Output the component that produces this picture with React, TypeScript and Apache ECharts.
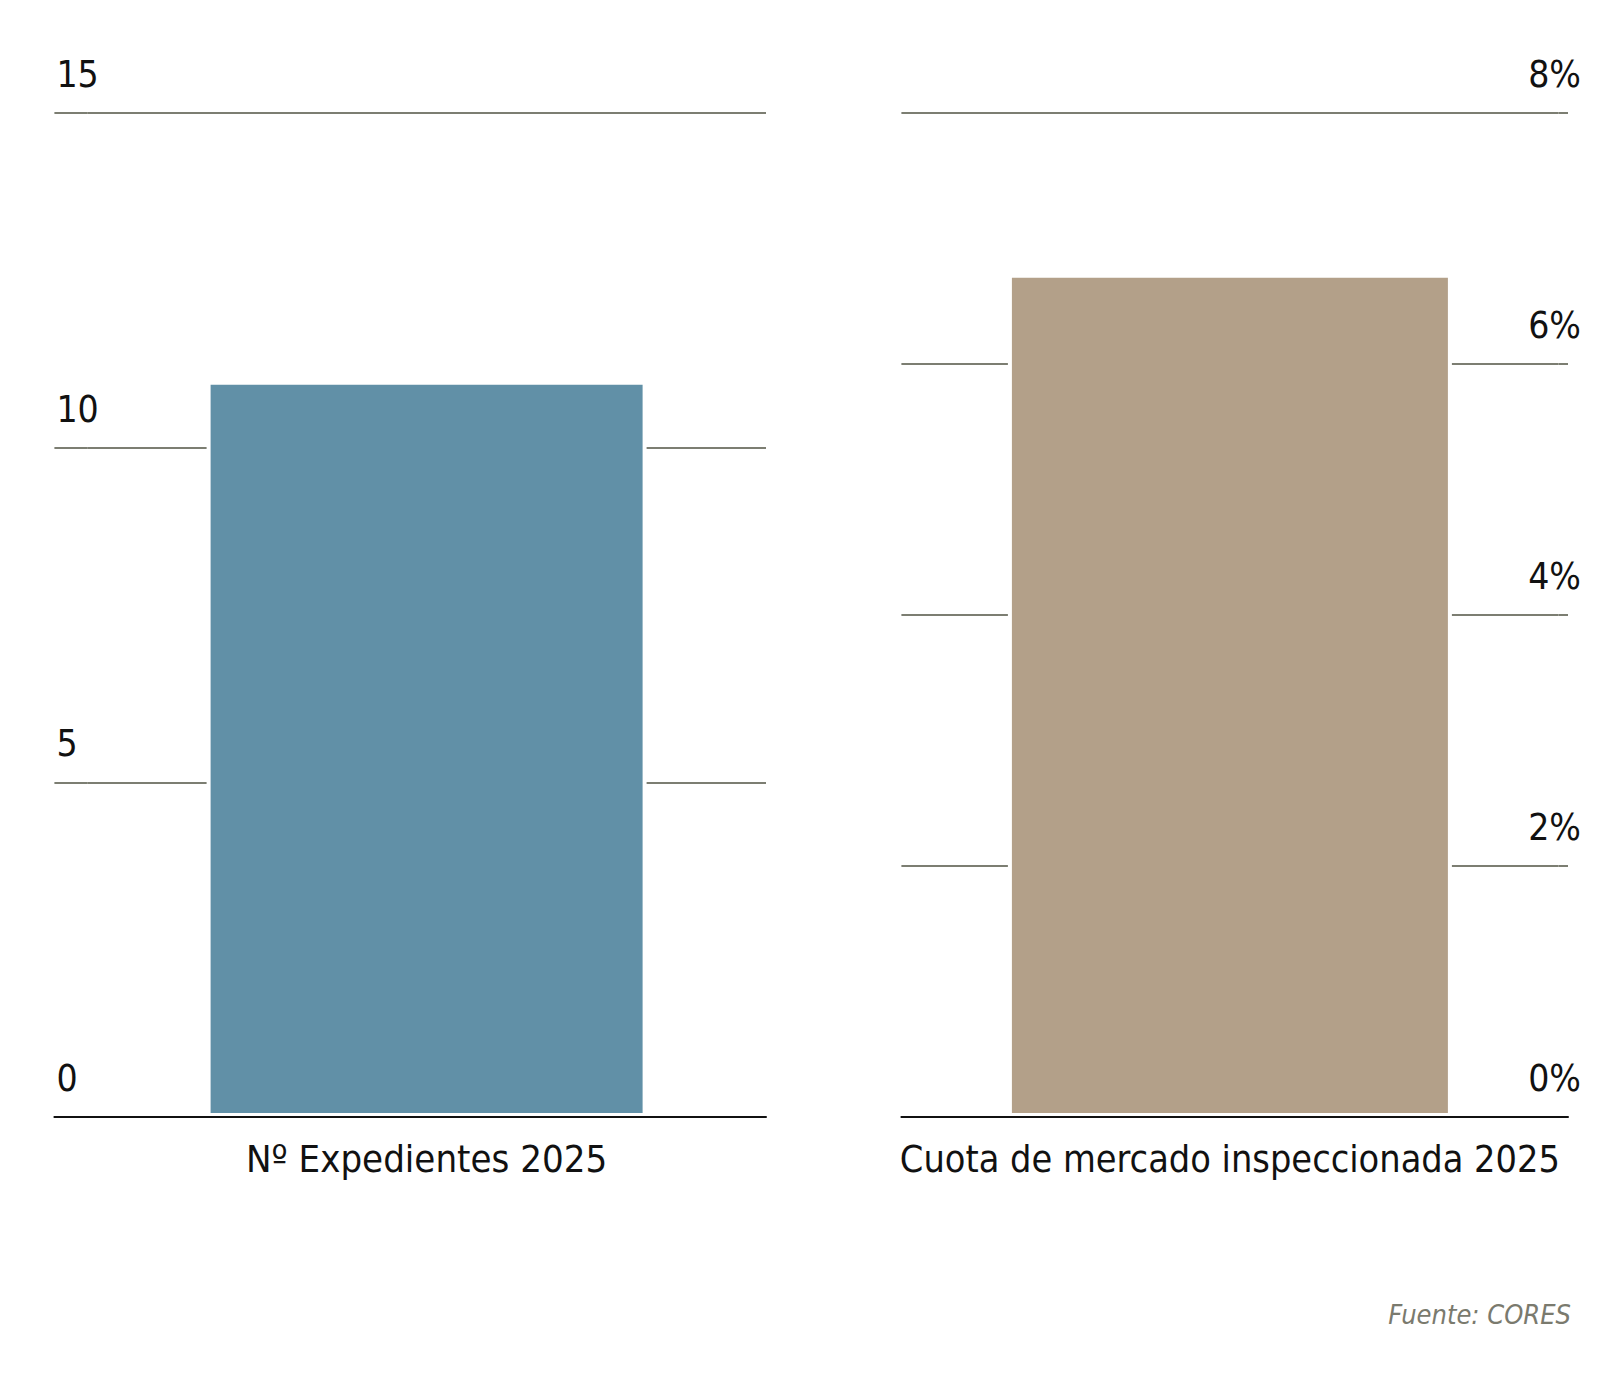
import React, { useEffect, useRef } from "react";
import * as echarts from "echarts";

const leftCategories = ["Nº Expedientes 2025"];
const leftValues = [11];
const leftTicks = { min: 0, max: 15, interval: 5 };

const rightCategories = ["Cuota de mercado inspeccionada 2025"];
const rightValues = [6.72];
const rightTicks = { min: 0, max: 8, interval: 2 };

const sourceText = "Fuente: CORES";

const FONT = "'DejaVu Sans Condensed', 'Noto Sans', sans-serif";
const GRID_COLOR = "#7c7e72";
const TOP = 105;
const H = 1004;

const splitLine = { lineStyle: { color: GRID_COLOR, width: 2 } };
const blackLine = { lineStyle: { color: "#111", width: 2 } };

function tickLabel(align: string, margin: number, formatter?: string) {
  return {
    inside: true,
    align,
    verticalAlign: "bottom",
    margin,
    padding: [0, 0, 20, 0],
    fontSize: 37,
    color: "#111",
    fontFamily: FONT,
    ...(formatter ? { formatter } : {}),
  };
}

function stubX(gridIndex: number) {
  return {
    type: "value",
    gridIndex,
    min: 0,
    max: 1,
    z: 10,
    axisLine: blackLine,
    axisTick: { show: false },
    axisLabel: { show: false },
    splitLine: { show: false },
  };
}

export default function App() {
  const ref = useRef<HTMLDivElement>(null);
  useEffect(() => {
    if (!ref.current) return;
    const chart = echarts.init(ref.current, null, { renderer: "svg" });
    chart.setOption({
      animation: false,
      backgroundColor: "#ffffff",
      textStyle: { fontFamily: FONT },
      grid: [
        { left: 79.2, top: TOP, width: 678.8, height: H },
        { left: 893.4, top: TOP, width: 657, height: H },
        { left: 46.4, top: TOP, width: 32.8, height: H },
        { left: 1550.4, top: TOP, width: 9.6, height: H },
      ],
      xAxis: [
        {
          type: "category",
          gridIndex: 0,
          data: leftCategories,
          z: 10,
          axisLine: blackLine,
          axisTick: { show: false },
          axisLabel: { fontSize: 38, color: "#111", margin: 23, fontFamily: FONT },
        },
        {
          type: "category",
          gridIndex: 1,
          data: rightCategories,
          z: 10,
          axisLine: blackLine,
          axisTick: { show: false },
          axisLabel: { fontSize: 37.5, color: "#111", margin: 23, fontFamily: FONT },
        },
        stubX(2),
        stubX(3),
      ],
      yAxis: [
        {
          type: "value",
          gridIndex: 0,
          min: leftTicks.min,
          max: leftTicks.max,
          interval: leftTicks.interval,
          z: 0,
          axisLine: { show: false },
          axisTick: { show: false },
          splitLine,
          axisLabel: { show: false },
        },
        {
          type: "value",
          gridIndex: 1,
          position: "right",
          min: rightTicks.min,
          max: rightTicks.max,
          interval: rightTicks.interval,
          z: 0,
          axisLine: { show: false },
          axisTick: { show: false },
          splitLine,
          axisLabel: { show: false },
        },
        {
          type: "value",
          gridIndex: 2,
          min: leftTicks.min,
          max: leftTicks.max,
          interval: leftTicks.interval,
          z: 0,
          axisLine: { show: false },
          axisTick: { show: false },
          splitLine,
          axisLabel: tickLabel("left", 2),
        },
        {
          type: "value",
          gridIndex: 3,
          position: "right",
          min: rightTicks.min,
          max: rightTicks.max,
          interval: rightTicks.interval,
          z: 0,
          axisLine: { show: false },
          axisTick: { show: false },
          splitLine,
          axisLabel: tickLabel("right", -13, "{value}%"),
        },
      ],
      series: [
        {
          type: "bar",
          xAxisIndex: 0,
          yAxisIndex: 0,
          data: leftValues,
          barWidth: 440,
          itemStyle: { color: "#6190a7", borderColor: "#ffffff", borderWidth: 4 },
        },
        {
          type: "bar",
          xAxisIndex: 1,
          yAxisIndex: 1,
          data: rightValues,
          barWidth: 444,
          itemStyle: { color: "#b3a089", borderColor: "#ffffff", borderWidth: 4 },
        },
      ],
      graphic: [
        {
          type: "text",
          right: 29,
          top: 1293,
          style: {
            text: sourceText,
            fontSize: 27,
            fontStyle: "italic",
            fill: "#7a7a6e",
            fontFamily: FONT,
          },
        },
      ],
    });
    return () => chart.dispose();
  }, []);
  return <div ref={ref} style={{ width: 1592, height: 1359 }} />;
}
